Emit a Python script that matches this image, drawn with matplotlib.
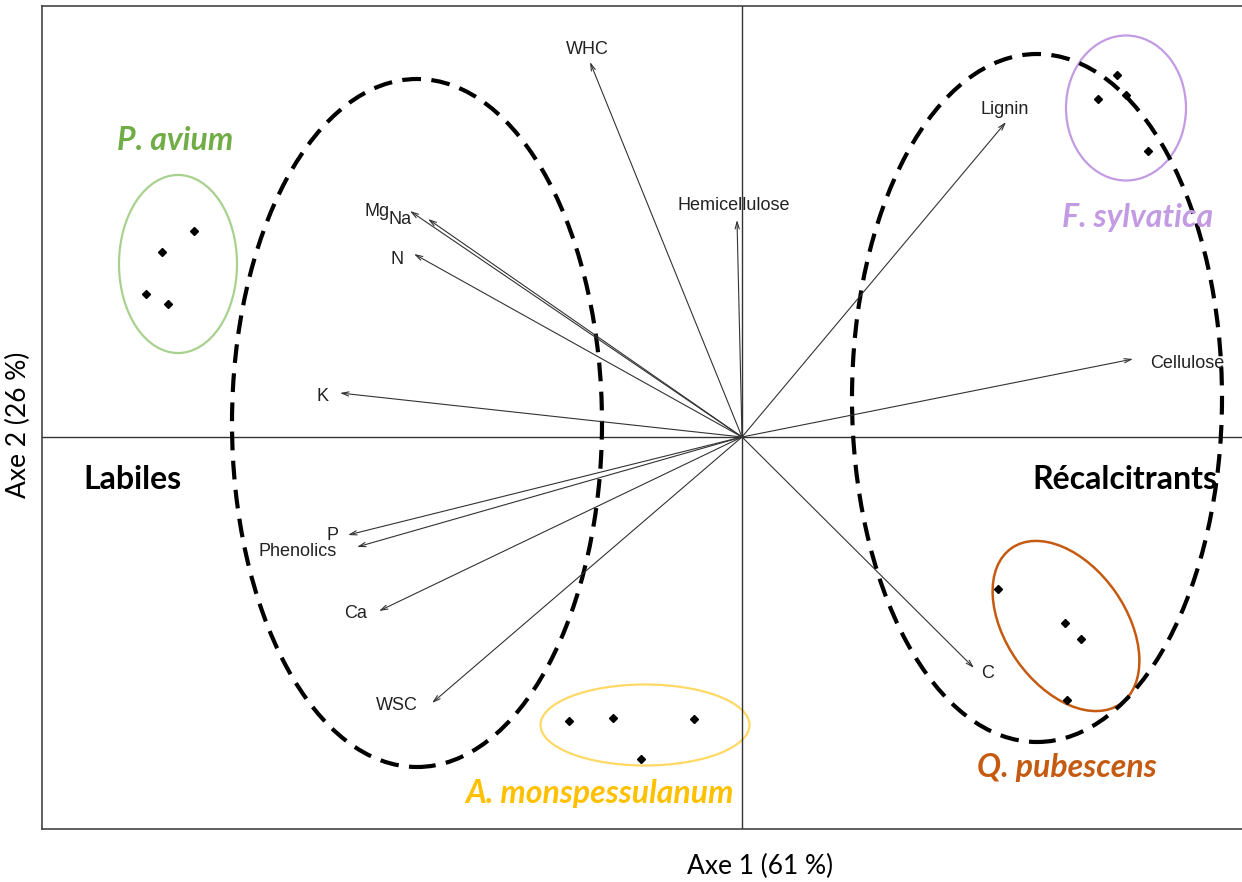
import matplotlib
matplotlib.use('Agg')
import matplotlib.pyplot as plt
from matplotlib.patches import Ellipse

# Variable loadings (arrow tips), in plot units
variables = ['WHC', 'Hemicellulose', 'Lignin', 'Cellulose', 'Mg', 'Na', 'N', 'K',
             'P', 'Phenolics', 'Ca', 'WSC', 'C']
var_x = [-1.52, -0.05, 2.64, 3.91, -3.32, -3.14, -3.28, -4.02, -3.94, -3.85, -3.63, -3.10, 2.32]
var_y = [3.75, 2.17, 3.15, 0.78, 2.26, 2.18, 1.83, 0.44, -0.98, -1.10, -1.74, -2.66, -2.31]

# Sample scores per species
species = ['P. avium', 'F. sylvatica', 'Q. pubescens', 'A. monspessulanum']
avium_x = [-5.48, -5.80, -5.96, -5.74]
avium_y = [2.06, 1.85, 1.43, 1.33]
sylvatica_x = [3.75, 3.56, 3.84, 4.06]
sylvatica_y = [3.62, 3.38, 3.42, 2.86]
pubescens_x = [2.56, 3.23, 3.39, 3.25]
pubescens_y = [-1.52, -1.86, -2.02, -2.63]
monsp_x = [-1.73, -1.29, -0.48, -1.01]
monsp_y = [-2.84, -2.81, -2.82, -3.22]

# label offsets from the arrow tip in pixels (dx right, dy down)
label_off = {'WHC': (-3, -15), 'Hemicellulose': (-3, -16), 'Lignin': (-1, -15),
             'Cellulose': (54, 2), 'Mg': (-33, -2), 'Na': (-28, -1), 'N': (-17, 3),
             'K': (-17, 1), 'P': (-15, -2), 'Phenolics': (-59, 3), 'Ca': (-23, 1),
             'WSC': (-35, 0), 'C': (14, 3)}

fig = plt.figure(figsize=(12.42, 8.82), dpi=100)
ax = fig.add_axes([42 / 1242, 53 / 882, 1 - 42 / 1242, (829 - 6) / 882])
ax.set_xlim(-7.0, 5.0)
ax.set_ylim(-3.92, 4.31)
ax.set_xticks([])
ax.set_yticks([])
for s in ['left', 'top', 'bottom']:
    ax.spines[s].set_color('#444444')
    ax.spines[s].set_linewidth(1.2)
ax.spines['right'].set_visible(False)

ax.axhline(0, color='#333333', lw=1.0)
ax.axvline(0, color='#333333', lw=1.0)

# big dashed groupings
for cx, cy in [(-3.25, 0.14), (2.95, 0.39)]:
    ax.add_patch(Ellipse((cx, cy), 3.70, 6.88, fill=False, ec='black', lw=3,
                         ls=(0, (4.5, 2.5)), zorder=3))

# arrows
for name, x, y in zip(variables, var_x, var_y):
    ax.annotate('', xy=(x, y), xytext=(0, 0),
                arrowprops=dict(arrowstyle='->,head_length=0.5,head_width=0.15',
                                color='#333333', lw=0.8, shrinkA=0, shrinkB=0))
    dx, dy = label_off[name]
    ax.annotate(name, xy=(x, y), xytext=(dx, -dy - 2), textcoords='offset pixels',
                ha='center', va='center', fontsize=13, color='#222222',
                family='Liberation Sans')

# species points
groups = [(avium_x, avium_y), (sylvatica_x, sylvatica_y),
          (pubescens_x, pubescens_y), (monsp_x, monsp_y)]
for gx, gy in groups:
    ax.plot(gx, gy, 'D', color='black', markersize=4, zorder=4)

# species ellipses
ax.add_patch(Ellipse((-5.64, 1.73), 1.18, 1.78, fill=False, ec='#a9d18e', lw=1.6))
ax.add_patch(Ellipse((3.84, 3.29), 1.20, 1.45, fill=False, ec='#c39be3', lw=1.6))
ax.add_patch(Ellipse((3.24, -1.89), 1.90, 1.20, angle=-55, fill=False, ec='#c55a11', lw=1.8))
ax.add_patch(Ellipse((-0.97, -2.88), 2.09, 0.81, fill=False, ec='#ffd966', lw=1.6))

# species names
sp_font = dict(family='Lato', fontsize=23, fontweight='bold', style='italic',
               ha='center', va='center')
ax.text(-5.67, 2.97, 'P. avium', color='#70ad47', **sp_font)
ax.text(3.96, 2.19, 'F. sylvatica', color='#c39be3', **sp_font)
ax.text(3.25, -3.30, 'Q. pubescens', color='#c55a11', **sp_font)
ax.text(-1.42, -3.56, 'A. monspessulanum', color='#ffc000', **sp_font)

ax.text(-6.10, -0.42, 'Labiles', family='Lato', fontsize=23, fontweight='bold',
        ha='center', va='center')
ax.text(3.83, -0.42, 'Récalcitrants', family='Lato', fontsize=23, fontweight='bold',
        ha='center', va='center')

fig.text(760 / 1242, 1 - 866 / 882, 'Axe 1 (61 %)', family='Lato', fontsize=19,
         ha='center', va='center')
fig.text(18 / 1242, 1 - 425 / 882, 'Axe 2 (26 %)', family='Lato', fontsize=19,
         ha='center', va='center', rotation=90)

fig.savefig('out.png', dpi=100)
